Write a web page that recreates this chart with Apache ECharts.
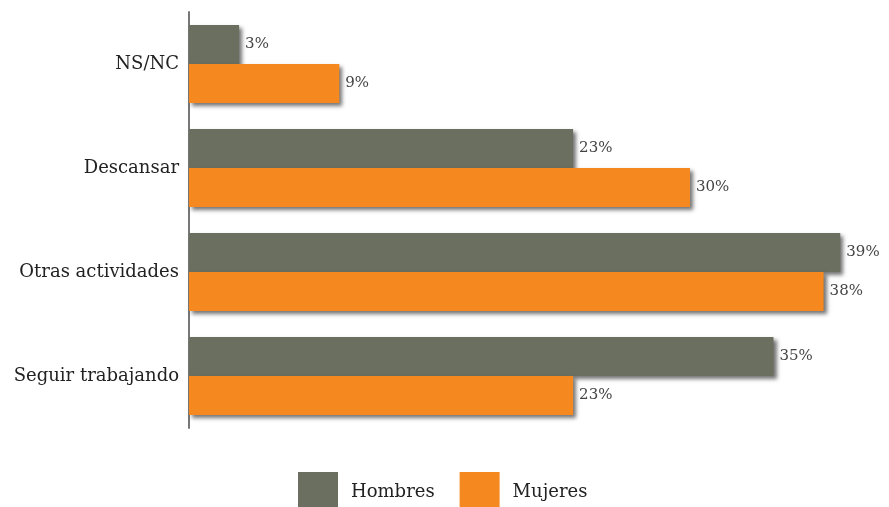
<!DOCTYPE html>
<html>
<head>
<meta charset="utf-8">
<script src="https://cdn.jsdelivr.net/npm/echarts@6/dist/echarts.min.js"></script>
<style>
  html, body { margin: 0; padding: 0; background: #fff; }
  #chart { width: 889px; height: 507px; }
</style>
</head>
<body>
<div id="chart"></div>
<script>
var categories = ['NS/NC', 'Descansar', 'Otras actividades', 'Seguir trabajando'];
var hombres = [3, 23, 39, 35];
var mujeres = [9, 30, 38, 23];

var font = 'DejaVu Serif';
var chart = echarts.init(document.getElementById('chart'));

function barSeries(name, data, color) {
  return {
    name: name,
    type: 'bar',
    data: data,
    barWidth: 39,
    barGap: '0%',
    itemStyle: {
      color: color,
      shadowColor: 'rgba(0,0,0,0.55)',
      shadowBlur: 4,
      shadowOffsetX: 3,
      shadowOffsetY: 3
    },
    label: {
      show: true,
      position: 'right',
      distance: 6,
      formatter: '{c}%',
      color: '#444',
      fontFamily: font,
      fontSize: 15
    }
  };
}

chart.setOption({
  animation: false,
  grid: { left: 189, right: 32, top: 12, bottom: 79, containLabel: false },
  legend: {
    top: 467,
    left: 293,
    icon: 'rect',
    itemWidth: 40,
    itemHeight: 40,
    itemGap: 25,
    textStyle: { fontFamily: font, fontSize: 18, color: '#222', padding: [0, 0, 0, 8] },
    data: ['Hombres', 'Mujeres']
  },
  xAxis: {
    type: 'value',
    min: 0,
    max: 40,
    show: false
  },
  yAxis: {
    type: 'category',
    data: categories,
    inverse: true,
    axisLine: { show: true, lineStyle: { color: '#777', width: 2 } },
    axisTick: { show: false },
    axisLabel: { fontFamily: font, fontSize: 18, color: '#222', margin: 10 }
  },
  series: [
    barSeries('Hombres', hombres, '#6b6f60'),
    barSeries('Mujeres', mujeres, '#f5891f')
  ]
});
</script>
</body>
</html>
